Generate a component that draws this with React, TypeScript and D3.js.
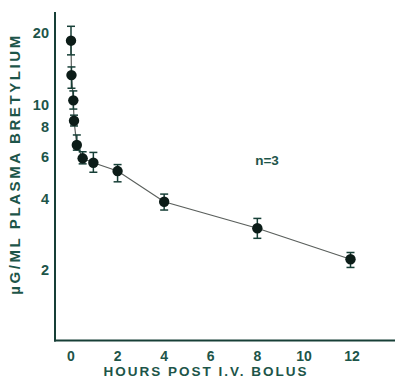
import React from "react";
import * as d3 from "d3";

const hours = [0.0, 0.02, 0.1, 0.13, 0.25, 0.5, 0.96, 2, 4, 8, 12];
const concentration = [18.6, 13.3, 10.4, 8.52, 6.73, 5.91, 5.66, 5.22, 3.87, 2.99, 2.21];
const upper = [21.4, 14.4, 11.4, 9.0, 7.42, 6.3, 6.26, 5.56, 4.17, 3.29, 2.36];
const lower = [16.2, 11.7, 9.55, 8.1, 6.4, 5.6, 5.16, 4.7, 3.57, 2.71, 2.04];
const xTicks = [0, 2, 4, 6, 8, 10, 12];
const yTicks = [2, 4, 6, 8, 10, 20];

const ink = "#173f37";
const textInk = "#1d5549";
const font = "'Liberation Sans', Arial, sans-serif";

export default function App() {
  const x = d3.scaleLinear().domain([0, 12]).range([71, 350.5]);
  const y = d3.scaleLog().domain([1, 24.6]).range([340.6, 12]);
  const pts = hours.map((h, i) => [x(h), y(concentration[i])] as [number, number]);
  const line = d3.line().curve(d3.curveLinear)(pts) || "";
  const [x0, x1] = [55, 395];
  const yBottom = y(1);
  const yTop = y(24.6);
  return (
    <svg width={395} height={380} style={{ position: "absolute", left: 0, top: 0, background: "#fff" }}>
      <rect x={0} y={0} width={395} height={380} fill="#fff" />
      {/* axes */}
      <line x1={x0} y1={yTop} x2={x0} y2={yBottom + 1} stroke={ink} strokeWidth={2} />
      <line x1={x0 - 1} y1={yBottom} x2={x1} y2={yBottom} stroke={ink} strokeWidth={2} />
      {/* y tick labels */}
      {yTicks.map((t) => (
        <text key={t} x={49} y={y(t)} dy="0.36em" textAnchor="end" fontFamily={font} fontWeight="bold" fontSize={14.5} fill={textInk}>
          {t}
        </text>
      ))}
      {/* x tick labels */}
      {xTicks.map((t) => (
        <text key={t} x={x(t) + (t === 12 ? 1.5 : 0)} y={356} dy="0.36em" textAnchor="middle" fontFamily={font} fontWeight="bold" fontSize={14} fill={textInk}>
          {t}
        </text>
      ))}
      {/* titles */}
      <text x={206} y={371} dy="0.36em" textAnchor="middle" fontFamily={font} fontWeight="bold" fontSize={13.5} letterSpacing={2} fill={textInk}>
        HOURS POST I.V. BOLUS
      </text>
      <text transform="translate(15,164) rotate(-90)" dy="0.36em" textAnchor="middle" fontFamily={font} fontWeight="bold" fontSize={15} letterSpacing={2.6} fill={textInk}>
        µG/ML PLASMA BRETYLIUM
      </text>
      <text x={267} y={160} dy="0.36em" textAnchor="middle" fontFamily={font} fontWeight="bold" fontSize={13.5} fill={textInk}>
        n=3
      </text>
      {/* connecting line */}
      <path d={line} fill="none" stroke="#5a5f5c" strokeWidth={1.2} />
      {/* error bars */}
      {hours.map((h, i) => (
        <g key={"e" + i} stroke={ink} strokeWidth={1.5}>
          <line x1={x(h)} x2={x(h)} y1={y(upper[i])} y2={y(lower[i])} />
          <line x1={x(h) - 4} x2={x(h) + 4} y1={y(upper[i])} y2={y(upper[i])} />
          <line x1={x(h) - 4} x2={x(h) + 4} y1={y(lower[i])} y2={y(lower[i])} />
        </g>
      ))}
      {/* markers */}
      {pts.map(([px, py], i) => (
        <circle key={"c" + i} cx={px} cy={py} r={5.2} fill="#0c1c18" />
      ))}
    </svg>
  );
}
